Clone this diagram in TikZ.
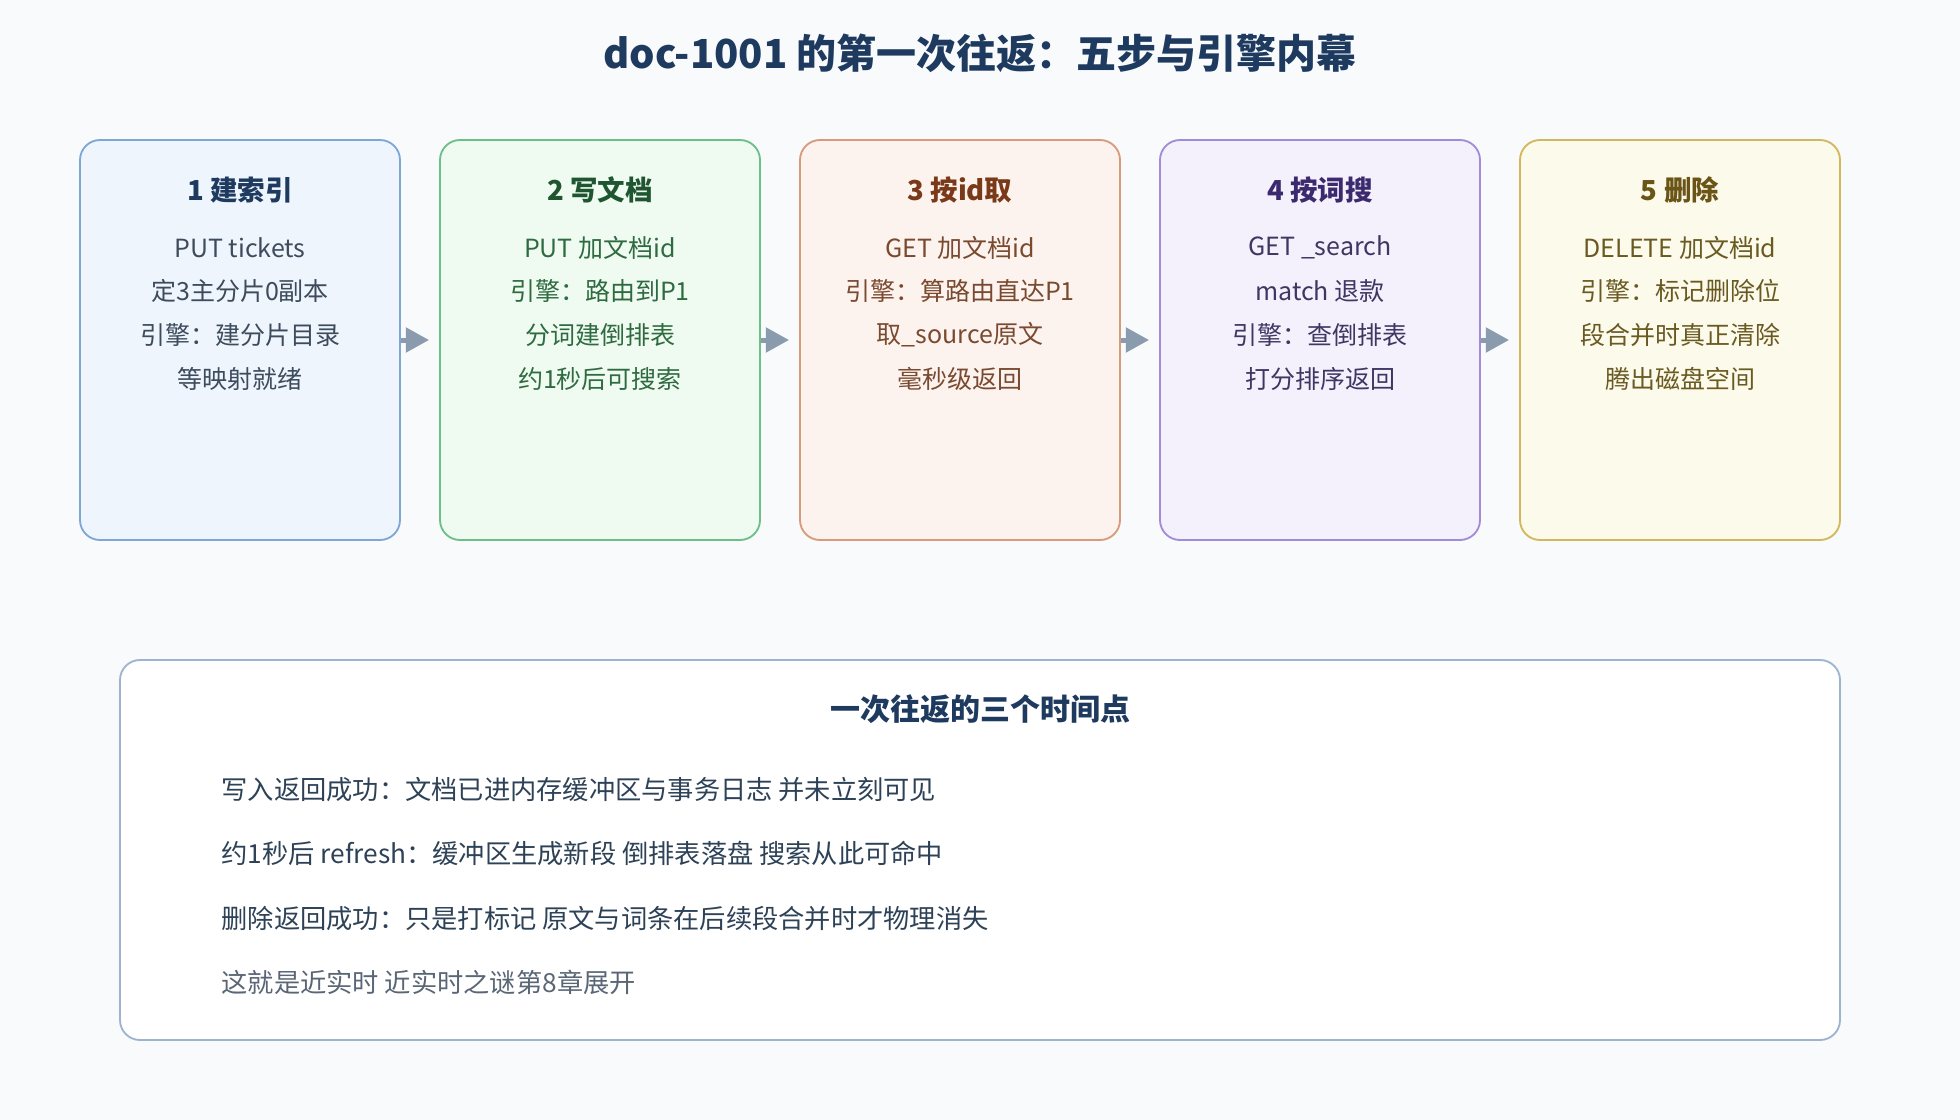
\documentclass[tikz,border=0pt]{standalone}
\usepackage{fontspec}
\setmainfont{Noto Sans CJK SC}
\usetikzlibrary{arrows.meta}

\definecolor{pagebg}{HTML}{F8FAFC}
\definecolor{navy}{HTML}{1E3A5F}
\definecolor{arrowgray}{HTML}{8A9BAE}
\definecolor{blueFill}{HTML}{EFF5FD}
\definecolor{blueLine}{HTML}{7FA7D6}
\definecolor{blueText}{HTML}{3D4B5C}
\definecolor{greenFill}{HTML}{EFFAF1}
\definecolor{greenLine}{HTML}{6DBF8A}
\definecolor{greenHead}{HTML}{1F5631}
\definecolor{greenText}{HTML}{2F6B40}
\definecolor{rustFill}{HTML}{FCF3EE}
\definecolor{rustLine}{HTML}{D99A7C}
\definecolor{rustHead}{HTML}{7A3A1A}
\definecolor{rustText}{HTML}{7A4A30}
\definecolor{violetFill}{HTML}{F4F0FC}
\definecolor{violetLine}{HTML}{A18CD8}
\definecolor{violetHead}{HTML}{3C2A6E}
\definecolor{violetText}{HTML}{3F3762}
\definecolor{goldFill}{HTML}{FCFAEB}
\definecolor{goldLine}{HTML}{D2B85C}
\definecolor{goldHead}{HTML}{6B5516}
\definecolor{goldText}{HTML}{6A5A22}
\definecolor{noteLine}{HTML}{9DB4D0}
\definecolor{noteText}{HTML}{2E4257}
\definecolor{noteGray}{HTML}{5A6675}

\begin{document}
\begin{tikzpicture}[x=0.75pt,y=0.75pt,yscale=-1,xscale=1,
  stepbox/.style={rounded corners=12pt,line width=1.1pt,minimum width=192pt,minimum height=240pt,inner sep=0pt},
  headtxt/.style={inner sep=0.75pt,font=\fontsize{16.5}{20}\selectfont\bfseries},
  bodytxt/.style={inner sep=0.75pt,font=\fontsize{15}{18}\selectfont},
  notetxt/.style={anchor=west,inner sep=0.75pt,font=\fontsize{15.75}{19}\selectfont,text=noteText},
  flow/.style={draw=arrowgray,line width=3pt,-{Triangle[length=14pt,width=14.5pt]},shorten <=0pt,shorten >=6pt}]
%set diagram size 1568 x 896
\fill[pagebg] (0,0) rectangle (1568,896);

% Title
\draw (784,43) node (title) [inner sep=0.75pt,font=\fontsize{24}{28}\selectfont\bfseries,text=navy] {doc-1001 的第一次往返：五步与引擎内幕};

%Rounded Rect [id:step1] 
\draw (192,272) node (s1) [stepbox,draw=blueLine,fill=blueFill] {};
%Rounded Rect [id:step2] 
\draw (480,272) node (s2) [stepbox,draw=greenLine,fill=greenFill] {};
%Rounded Rect [id:step3] 
\draw (768,272) node (s3) [stepbox,draw=rustLine,fill=rustFill] {};
%Rounded Rect [id:step4] 
\draw (1056,272) node (s4) [stepbox,draw=violetLine,fill=violetFill] {};
%Rounded Rect [id:step5] 
\draw (1344,272) node (s5) [stepbox,draw=goldLine,fill=goldFill] {};

%Arrows
\draw [flow] (s1) -- (s2);
\draw [flow] (s2) -- (s3);
\draw [flow] (s3) -- (s4);
\draw [flow] (s4) -- (s5);

% Text Node
\draw (192,152) node (h1) [headtxt,text=navy] {1 建索引};
\draw (192,198) node (a1) [bodytxt,text=blueText] {PUT tickets};
\draw (192,233) node (b1) [bodytxt,text=blueText] {定3主分片0副本};
\draw (192,268) node (c1) [bodytxt,text=blueText] {引擎：建分片目录};
\draw (192,303) node (d1) [bodytxt,text=blueText] {等映射就绪};
% Text Node
\draw (480,152) node (h2) [headtxt,text=greenHead] {2 写文档};
\draw (480,198) node (a2) [bodytxt,text=greenText] {PUT 加文档id};
\draw (480,233) node (b2) [bodytxt,text=greenText] {引擎：路由到P1};
\draw (480,268) node (c2) [bodytxt,text=greenText] {分词建倒排表};
\draw (480,303) node (d2) [bodytxt,text=greenText] {约1秒后可搜索};
% Text Node
\draw (768,152) node (h3) [headtxt,text=rustHead] {3 按id取};
\draw (768,198) node (a3) [bodytxt,text=rustText] {GET 加文档id};
\draw (768,233) node (b3) [bodytxt,text=rustText] {引擎：算路由直达P1};
\draw (768,268) node (c3) [bodytxt,text=rustText] {取\_source原文};
\draw (768,303) node (d3) [bodytxt,text=rustText] {毫秒级返回};
% Text Node
\draw (1056,152) node (h4) [headtxt,text=violetHead] {4 按词搜};
\draw (1056,198) node (a4) [bodytxt,text=violetText] {GET \_search};
\draw (1056,233) node (b4) [bodytxt,text=violetText] {match 退款};
\draw (1056,268) node (c4) [bodytxt,text=violetText] {引擎：查倒排表};
\draw (1056,303) node (d4) [bodytxt,text=violetText] {打分排序返回};
% Text Node
\draw (1344,152) node (h5) [headtxt,text=goldHead] {5 删除};
\draw (1344,198) node (a5) [bodytxt,text=goldText] {DELETE 加文档id};
\draw (1344,233) node (b5) [bodytxt,text=goldText] {引擎：标记删除位};
\draw (1344,268) node (c5) [bodytxt,text=goldText] {段合并时真正清除};
\draw (1344,303) node (d5) [bodytxt,text=goldText] {腾出磁盘空间};

%Rounded Rect [id:notes] 
\draw (784,680) node (notes) [rounded corners=12pt,line width=1.1pt,draw=noteLine,fill=white,minimum width=1032pt,minimum height=228pt,inner sep=0pt] {};

% Text Node
\draw (784,567) node (nh) [inner sep=0.75pt,font=\fontsize{18}{22}\selectfont\bfseries,text=navy] {一次往返的三个时间点};
\draw (176,632) node (n1) [notetxt] {写入返回成功：文档已进内存缓冲区与事务日志 并未立刻可见};
\draw (176,683) node (n2) [notetxt] {约1秒后 refresh：缓冲区生成新段 倒排表落盘 搜索从此可命中};
\draw (176,735) node (n3) [notetxt] {删除返回成功：只是打标记 原文与词条在后续段合并时才物理消失};
\draw (176,786) node (n4) [notetxt,text=noteGray] {这就是近实时 近实时之谜第8章展开};

\end{tikzpicture}
\end{document}
